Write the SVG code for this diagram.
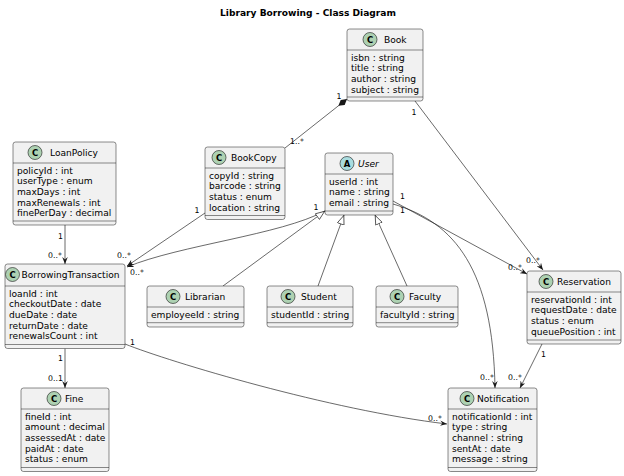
<svg xmlns="http://www.w3.org/2000/svg" width="624" height="476" viewBox="0 0 624 476">
<defs>
<style>
.box{fill:#F1F1F1;stroke:#181818;stroke-width:0.5}
.sep{stroke:#181818;stroke-width:0.5}
.t{font-family:"DejaVu Sans","Liberation Sans",sans-serif;font-size:9.1px;fill:#000}
.it{font-style:italic}
.lbl{font-family:"DejaVu Sans","Liberation Sans",sans-serif;font-size:7.8px;fill:#000}
.cc{fill:#ADD1B2;stroke:#181818;stroke-width:0.6}
.ca{fill:#A9DCDF;stroke:#181818;stroke-width:0.6}
.cl{font-family:"DejaVu Sans","Liberation Sans",sans-serif;font-weight:bold;font-size:8.5px;text-anchor:middle;fill:#000}
.edge{fill:none;stroke:#181818;stroke-width:0.65}
.title{font-family:"DejaVu Sans","Liberation Sans",sans-serif;font-weight:bold;font-size:9.1px;text-anchor:middle;fill:#000}
</style>
<marker id="arr" viewBox="0 0 10 8" refX="10" refY="4" markerWidth="7" markerHeight="5.6" markerUnits="userSpaceOnUse" orient="auto">
<path d="M0,0 L10,4 L0,8 L3.5,4 Z" fill="#181818"/>
</marker>
<marker id="tri" viewBox="0 0 10 8" refX="10" refY="4" markerWidth="10" markerHeight="8" markerUnits="userSpaceOnUse" orient="auto">
<path d="M0.5,0.5 L9.5,4 L0.5,7.5 Z" fill="#FFFFFF" stroke="#181818" stroke-width="0.65"/>
</marker>
<marker id="dia" viewBox="0 0 12 7" refX="0" refY="3.5" markerWidth="11" markerHeight="6.4" markerUnits="userSpaceOnUse" orient="auto">
<path d="M0,3.5 L6,0 L12,3.5 L6,7 Z" fill="#181818"/>
</marker>
</defs>

<rect width="624" height="476" fill="#FFFFFF"/>
<text class="title" x="308" y="15.5">Library Borrowing - Class Diagram</text>

<g id="connectors">
<path class="edge" d="M347,99 L285,148" marker-start="url(#dia)"/>
<path class="edge" d="M415,101 L543,270" marker-end="url(#arr)"/>
<path class="edge" d="M65,225 L65,264" marker-end="url(#arr)"/>
<path class="edge" d="M205,213 L127,266" marker-end="url(#arr)"/>
<path class="edge" d="M325,211 C280,235 180,245 127,267" marker-end="url(#arr)"/>
<path class="edge" d="M393,201 L527,274" marker-end="url(#arr)"/>
<path class="edge" d="M393,204 C455,222 493,270 495,388" marker-end="url(#arr)"/>
<path class="edge" d="M542,344 L520,388" marker-end="url(#arr)"/>
<path class="edge" d="M65,348.5 L65,388" marker-end="url(#arr)"/>
<path class="edge" d="M125,344 C170,362 330,410 447,424" marker-end="url(#arr)"/>
<path class="edge" d="M223,286 L325,211" marker-end="url(#tri)"/>
<path class="edge" d="M318,286 L344,215" marker-end="url(#tri)"/>
<path class="edge" d="M407,286 L375,215" marker-end="url(#tri)"/>
<text class="lbl" x="339" y="98.5" text-anchor="middle">1</text>
<text class="lbl" x="290" y="143.5">1..*</text>
<text class="lbl" x="411.5" y="115">1</text>
<text class="lbl" x="526" y="263">0..*</text>
<text class="lbl" x="63" y="238.5" text-anchor="end">1</text>
<text class="lbl" x="48" y="258">0..*</text>
<text class="lbl" x="194.5" y="213">1</text>
<text class="lbl" x="117" y="258">0..*</text>
<text class="lbl" x="313.5" y="209.5">1</text>
<text class="lbl" x="130" y="274.5">0..*</text>
<text class="lbl" x="400" y="199">1</text>
<text class="lbl" x="508" y="270">0..*</text>
<text class="lbl" x="400" y="213">1</text>
<text class="lbl" x="480" y="379.5">0..*</text>
<text class="lbl" x="541" y="356.5">1</text>
<text class="lbl" x="508" y="379.5">0..*</text>
<text class="lbl" x="63" y="361" text-anchor="end">1</text>
<text class="lbl" x="48" y="381">0..1</text>
<text class="lbl" x="130" y="344.5">1</text>
<text class="lbl" x="428" y="421">0..*</text>
</g>

<g id="Book">
<rect class="box" x="347" y="29" width="76" height="72" rx="2.5"/>
<circle class="cc" cx="370" cy="39.5" r="7"/><text class="cl" x="370" y="42.6">C</text>
<text class="t" x="384" y="42.8">Book</text>
<line class="sep" x1="347" y1="50" x2="423" y2="50"/>
<text class="t" x="351" y="60.5">isbn : string</text>
<text class="t" x="351" y="71.2">title : string</text>
<text class="t" x="351" y="81.9">author : string</text>
<text class="t" x="351" y="92.6">subject : string</text>
<line class="sep" x1="347" y1="97" x2="423" y2="97"/>
</g>

<g id="LoanPolicy">
<rect class="box" x="13" y="142" width="103" height="83" rx="2.5"/>
<circle class="cc" cx="35" cy="152.5" r="7"/><text class="cl" x="35" y="155.6">C</text>
<text class="t" x="50" y="155.8">LoanPolicy</text>
<line class="sep" x1="13" y1="163" x2="116" y2="163"/>
<text class="t" x="17" y="173.5">policyId : int</text>
<text class="t" x="17" y="184.2">userType : enum</text>
<text class="t" x="17" y="194.9">maxDays : int</text>
<text class="t" x="17" y="205.6">maxRenewals : int</text>
<text class="t" x="17" y="216.3">finePerDay : decimal</text>
<line class="sep" x1="13" y1="221" x2="116" y2="221"/>
</g>

<g id="BookCopy">
<rect class="box" x="205" y="147" width="80" height="72.5" rx="2.5"/>
<circle class="cc" cx="219" cy="157.5" r="7"/><text class="cl" x="219" y="160.6">C</text>
<text class="t" x="231" y="160.8">BookCopy</text>
<line class="sep" x1="205" y1="168" x2="285" y2="168"/>
<text class="t" x="209" y="178.5">copyId : string</text>
<text class="t" x="209" y="189.2">barcode : string</text>
<text class="t" x="209" y="199.9">status : enum</text>
<text class="t" x="209" y="210.6">location : string</text>
<line class="sep" x1="205" y1="215.5" x2="285" y2="215.5"/>
</g>

<g id="User">
<rect class="box" x="325" y="153" width="68" height="62" rx="2.5"/>
<circle class="ca" cx="347" cy="163.5" r="7"/><text class="cl" x="347" y="166.6">A</text>
<text class="t it" x="358" y="166.8">User</text>
<line class="sep" x1="325" y1="174" x2="393" y2="174"/>
<text class="t" x="329" y="184.5">userId : int</text>
<text class="t" x="329" y="195.2">name : string</text>
<text class="t" x="329" y="205.9">email : string</text>
<line class="sep" x1="325" y1="211" x2="393" y2="211"/>
</g>

<g id="BorrowingTransaction">
<rect class="box" x="5" y="264" width="120" height="84.5" rx="2.5"/>
<circle class="cc" cx="12.5" cy="274.5" r="7"/><text class="cl" x="12.5" y="277.6">C</text>
<text class="t" x="21.5" y="277.8">BorrowingTransaction</text>
<line class="sep" x1="5" y1="286" x2="125" y2="286"/>
<text class="t" x="9" y="296.5">loanId : int</text>
<text class="t" x="9" y="307.2">checkoutDate : date</text>
<text class="t" x="9" y="317.9">dueDate : date</text>
<text class="t" x="9" y="328.6">returnDate : date</text>
<text class="t" x="9" y="339.3">renewalsCount : int</text>
<line class="sep" x1="5" y1="344.5" x2="125" y2="344.5"/>
</g>

<g id="Fine">
<rect class="box" x="21" y="388" width="88" height="83.5" rx="2.5"/>
<circle class="cc" cx="54" cy="398.5" r="7"/><text class="cl" x="54" y="401.6">C</text>
<text class="t" x="65" y="401.8">Fine</text>
<line class="sep" x1="21" y1="409" x2="109" y2="409"/>
<text class="t" x="25" y="419.5">fineId : int</text>
<text class="t" x="25" y="430.2">amount : decimal</text>
<text class="t" x="25" y="440.9">assessedAt : date</text>
<text class="t" x="25" y="451.6">paidAt : date</text>
<text class="t" x="25" y="462.3">status : enum</text>
<line class="sep" x1="21" y1="467.5" x2="109" y2="467.5"/>
</g>

<g id="Librarian">
<rect class="box" x="147" y="286" width="97" height="41" rx="2.5"/>
<circle class="cc" cx="173" cy="296.5" r="7"/><text class="cl" x="173" y="299.6">C</text>
<text class="t" x="185" y="299.8">Librarian</text>
<line class="sep" x1="147" y1="307" x2="244" y2="307"/>
<text class="t" x="151" y="317.5">employeeId : string</text>
<line class="sep" x1="147" y1="322.7" x2="244" y2="322.7"/>
</g>

<g id="Student">
<rect class="box" x="267" y="286" width="86" height="41" rx="2.5"/>
<circle class="cc" cx="288" cy="296.5" r="7"/><text class="cl" x="288" y="299.6">C</text>
<text class="t" x="301" y="299.8">Student</text>
<line class="sep" x1="267" y1="307" x2="353" y2="307"/>
<text class="t" x="271" y="317.5">studentId : string</text>
<line class="sep" x1="267" y1="322.7" x2="353" y2="322.7"/>
</g>

<g id="Faculty">
<rect class="box" x="376" y="286" width="82" height="41" rx="2.5"/>
<circle class="cc" cx="397" cy="296.5" r="7"/><text class="cl" x="397" y="299.6">C</text>
<text class="t" x="409" y="299.8">Faculty</text>
<line class="sep" x1="376" y1="307" x2="458" y2="307"/>
<text class="t" x="380" y="317.5">facultyId : string</text>
<line class="sep" x1="376" y1="322.7" x2="458" y2="322.7"/>
</g>

<g id="Reservation">
<rect class="box" x="527" y="271" width="94" height="73" rx="2.5"/>
<circle class="cc" cx="546" cy="281.5" r="7"/><text class="cl" x="546" y="284.6">C</text>
<text class="t" x="557" y="284.8">Reservation</text>
<line class="sep" x1="527" y1="292" x2="621" y2="292"/>
<text class="t" x="531" y="302.5">reservationId : int</text>
<text class="t" x="531" y="313.2">requestDate : date</text>
<text class="t" x="531" y="323.9">status : enum</text>
<text class="t" x="531" y="334.6">queuePosition : int</text>
<line class="sep" x1="527" y1="340" x2="621" y2="340"/>
</g>

<g id="Notification">
<rect class="box" x="448" y="388" width="89" height="83.5" rx="2.5"/>
<circle class="cc" cx="467" cy="398.5" r="7"/><text class="cl" x="467" y="401.6">C</text>
<text class="t" x="477" y="401.8">Notification</text>
<line class="sep" x1="448" y1="409" x2="537" y2="409"/>
<text class="t" x="452" y="419.5">notificationId : int</text>
<text class="t" x="452" y="430.2">type : string</text>
<text class="t" x="452" y="440.9">channel : string</text>
<text class="t" x="452" y="451.6">sentAt : date</text>
<text class="t" x="452" y="462.3">message : string</text>
<line class="sep" x1="448" y1="467.5" x2="537" y2="467.5"/>
</g>
</svg>
